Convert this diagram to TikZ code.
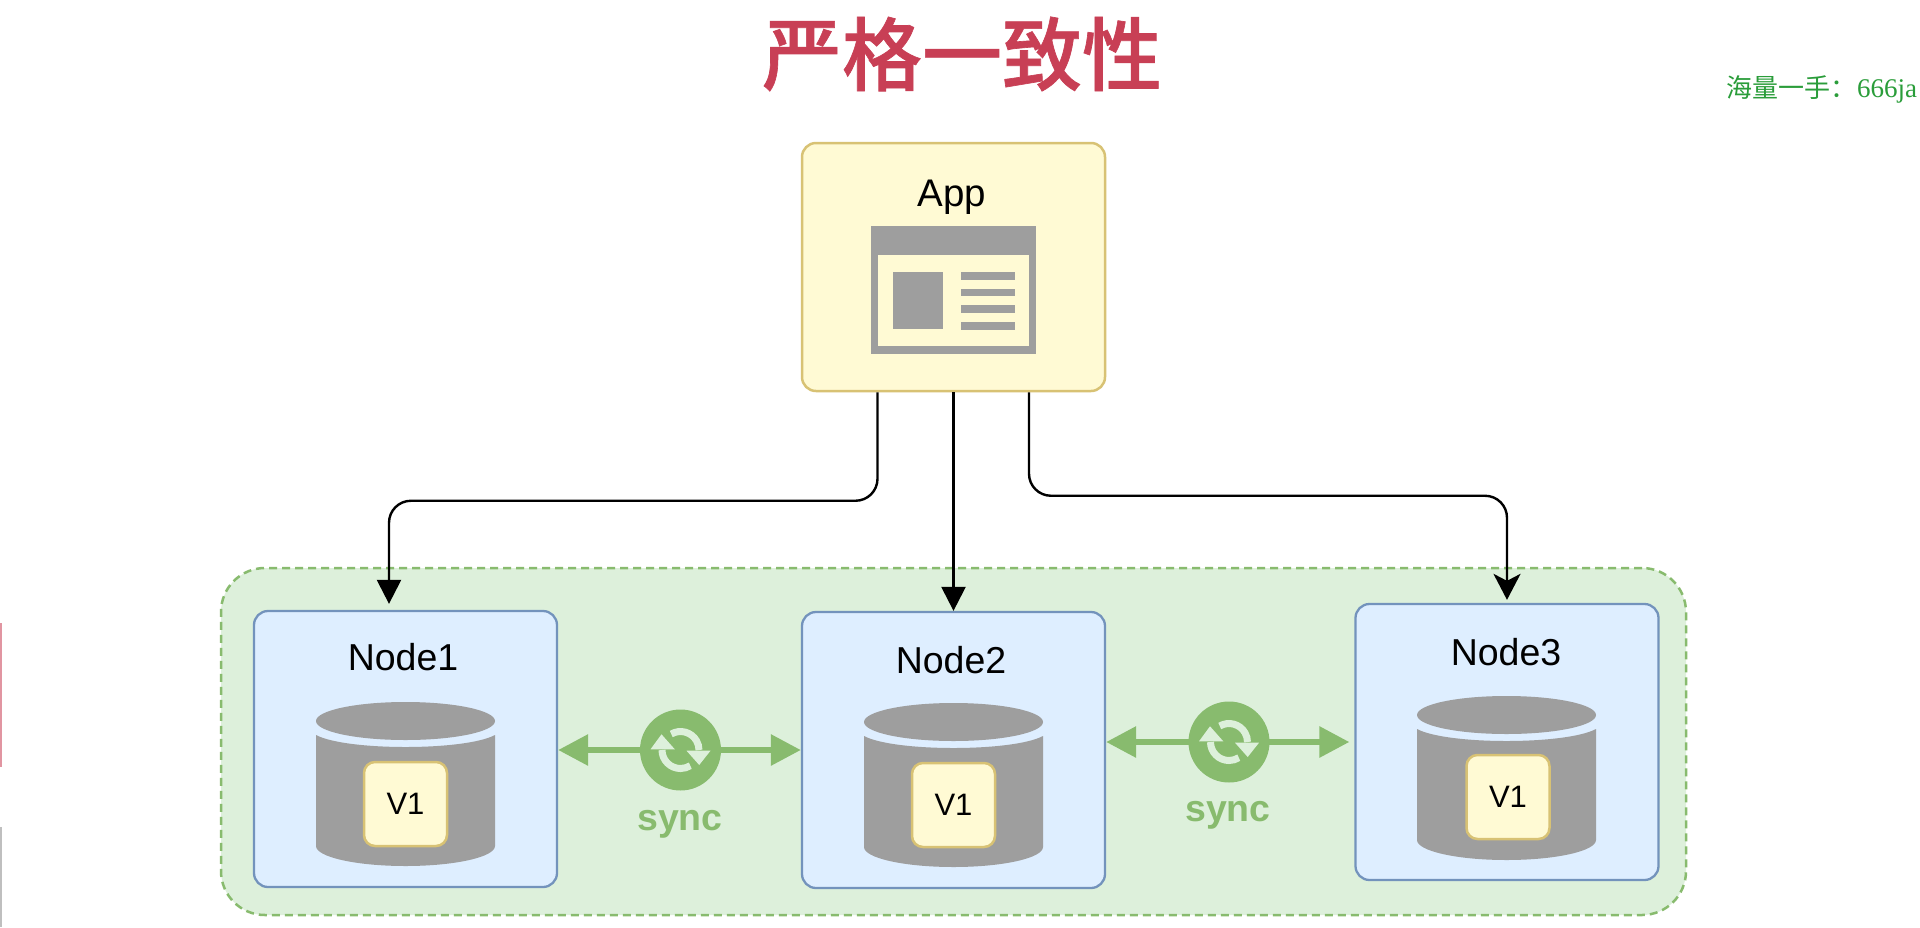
\documentclass[tikz,border=0pt]{standalone}
\usepackage{fontspec}
\setmainfont{Liberation Sans}
\newfontfamily\cjkfont{Noto Sans CJK SC}
\newfontfamily\cjkmedium{Noto Sans CJK SC Medium}[FakeBold=0.8]
\newfontfamily\wmlatin{Liberation Serif}
\usetikzlibrary{arrows.meta,calc}
\definecolor{titlered}{HTML}{C83F55}
\definecolor{wmgreen}{HTML}{2A9D3A}
\definecolor{cgray}{HTML}{9E9E9E}
\definecolor{syncgreen}{HTML}{88BB6E}
\definecolor{groupfill}{HTML}{DDF0DB}
\definecolor{nodefill}{HTML}{DEEEFF}
\definecolor{nodeline}{HTML}{7393BC}
\definecolor{appfill}{HTML}{FFFAD4}
\definecolor{appline}{HTML}{D8C274}
\tikzset{
  groupbox/.style={rectangle,draw=syncgreen,fill=groupfill,line width=2.5pt,dash pattern=on 8pt off 5pt,rounded corners=44pt,inner sep=0pt,minimum width=1465pt,minimum height=347pt},
  nodebox/.style={rectangle,draw=nodeline,fill=nodefill,line width=2.3pt,rounded corners=14pt,inner sep=0pt,minimum width=303pt,minimum height=276pt},
  appbox/.style={rectangle,draw=appline,fill=appfill,line width=2.5pt,rounded corners=14pt,inner sep=0pt,minimum width=303pt,minimum height=248pt},
  valbox/.style={rectangle,draw=appline,fill=appfill,line width=2.5pt,rounded corners=11pt,inner sep=0pt,minimum width=83pt,minimum height=84pt,font=\fontsize{31}{34}\selectfont,text=black},
  lbl/.style={inner sep=0pt,font=\fontsize{37.5}{42}\selectfont,text=black},
  synclbl/.style={inner sep=0pt,font=\fontsize{37.5}{42}\selectfont\bfseries,text=syncgreen},
  synccirc/.style={circle,fill=syncgreen,inner sep=0pt,minimum size=81pt},
  conn/.style={draw=black,line width=2.4pt,rounded corners=22pt},
  headA/.style={-{Triangle[length=24pt,width=24pt]}},
  headB/.style={-{Stealth[length=26pt,width=27pt,inset=7pt]}},
  synclink/.style={draw=syncgreen,line width=6pt,-{Triangle[length=30pt,width=30pt]}},
  dbcyl/.pic={
    \fill[cgray] (89.5,19) ellipse[x radius=89.5pt,y radius=19pt];
    \fill[cgray] (0,33) .. controls (30,49) and (149,49) .. (179,33) -- (179,144)
       .. controls (179,155) and (139,164) .. (89.5,164)
       .. controls (40,164) and (0,155) .. (0,144) -- cycle;
  },
  syncicon/.pic={
    \draw[groupfill,line width=7pt] (-18.5,0) arc[start angle=180,end angle=302,radius=18.5pt];
    \draw[groupfill,line width=7pt] (-9.25,-16) arc[start angle=120,end angle=0,radius=18.5pt];
    \fill[groupfill] (-19,-15.7) -- (-30,-0.7) -- (-5.7,-0.7) -- cycle;
    \fill[groupfill] (18.7,15) -- (6,0.7) -- (30,0.7) -- cycle;
  }
}
\begin{document}
\begin{tikzpicture}[x=1pt,y=-1pt]
\path[use as bounding box] (0,0) rectangle (1920,927);
\clip (0,0) rectangle (1920,927);
\fill[white] (0,0) rectangle (1920,927);
% edge marks
\fill[titlered!55] (0,623) rectangle (1.5,767);
\fill[black!25] (0,827) rectangle (1.5,927);
% title and watermark
\node[inner sep=0pt,text=titlered,font=\fontsize{80}{90}\selectfont\cjkmedium] (title) at (962,54) {严格一致性};
\node[inner sep=0pt,anchor=base west,text=wmgreen,font=\fontsize{26}{28}\selectfont] (wm) at (1726,97) {\cjkfont 海量一手：{\wmlatin\fontsize{27}{28}\selectfont\hspace{1pt}666ja}};
% group
\node[groupbox] (group) at (953.5,741.5) {};
% App
\node[appbox] (app) at (953.5,267) {};
\node[lbl,font=\fontsize{38.5}{42}\selectfont] (applbl) at (952,197) {App};
\fill[cgray] (871,226) rectangle (1036,354);
\fill[appfill] (878,255) rectangle (1029,346);
\fill[cgray] (892.5,272) rectangle (943,329);
\foreach \yy in {272,288.5,305,322}{\fill[cgray] (960.5,\yy) rectangle (1014.5,\yy+7.5);}
% Nodes
\node[nodebox] (node1) at (405.5,749) {};
\node[nodebox] (node2) at (953.5,750) {};
\node[nodebox] (node3) at (1507,742) {};
\node[lbl] (n1lbl) at (403,657) {Node1};
\node[lbl] (n2lbl) at (951,660) {Node2};
\node[lbl] (n3lbl) at (1506,652) {Node3};
\pic at (316,702) {dbcyl};
\pic at (864,703) {dbcyl};
\pic at (1417,696) {dbcyl};
\node[valbox] (v1) at (405.5,804) {V1\hspace{4pt}};
\node[valbox] (v2) at (953.5,805) {V1\hspace{4pt}};
\node[valbox] (v3) at (1508,797) {V1\hspace{4pt}};
% sync
\node[synccirc] (sync1) at (680.5,750) {};
\node[synccirc] (sync2) at (1229,742) {};
\draw[synclink] ([xshift=4pt]sync1.west) -- (sync1.west -| node1.east);
\draw[synclink] ([xshift=-4pt]sync1.east) -- (sync1.east -| node2.west);
\draw[synclink] ([xshift=4pt]sync2.west) -- (sync2.west -| node2.east);
\draw[synclink,shorten >=5pt] ([xshift=-4pt]sync2.east) -- (sync2.east -| node3.west);
\pic at (sync1.center) {syncicon};
\pic at (sync2.center) {syncicon};
\node[synclbl] (s1lbl) at (680,824) {sync};
\node[synclbl] (s2lbl) at (1228,815) {sync};
% connectors
\coordinate (a1) at ([xshift=-76pt]app.south);
\coordinate (a3) at ([xshift=75.5pt]app.south);
\draw[conn,headA,shorten >=6pt] (a1) -- ++(0,108.5) -| ([xshift=-16.5pt]node1.north);
\draw[conn,headA] (app.south) -- (node2.north);
\draw[conn,headB,shorten >=3pt] (a3) -- ++(0,103.5) -| (node3.north);
\end{tikzpicture}
\end{document}
